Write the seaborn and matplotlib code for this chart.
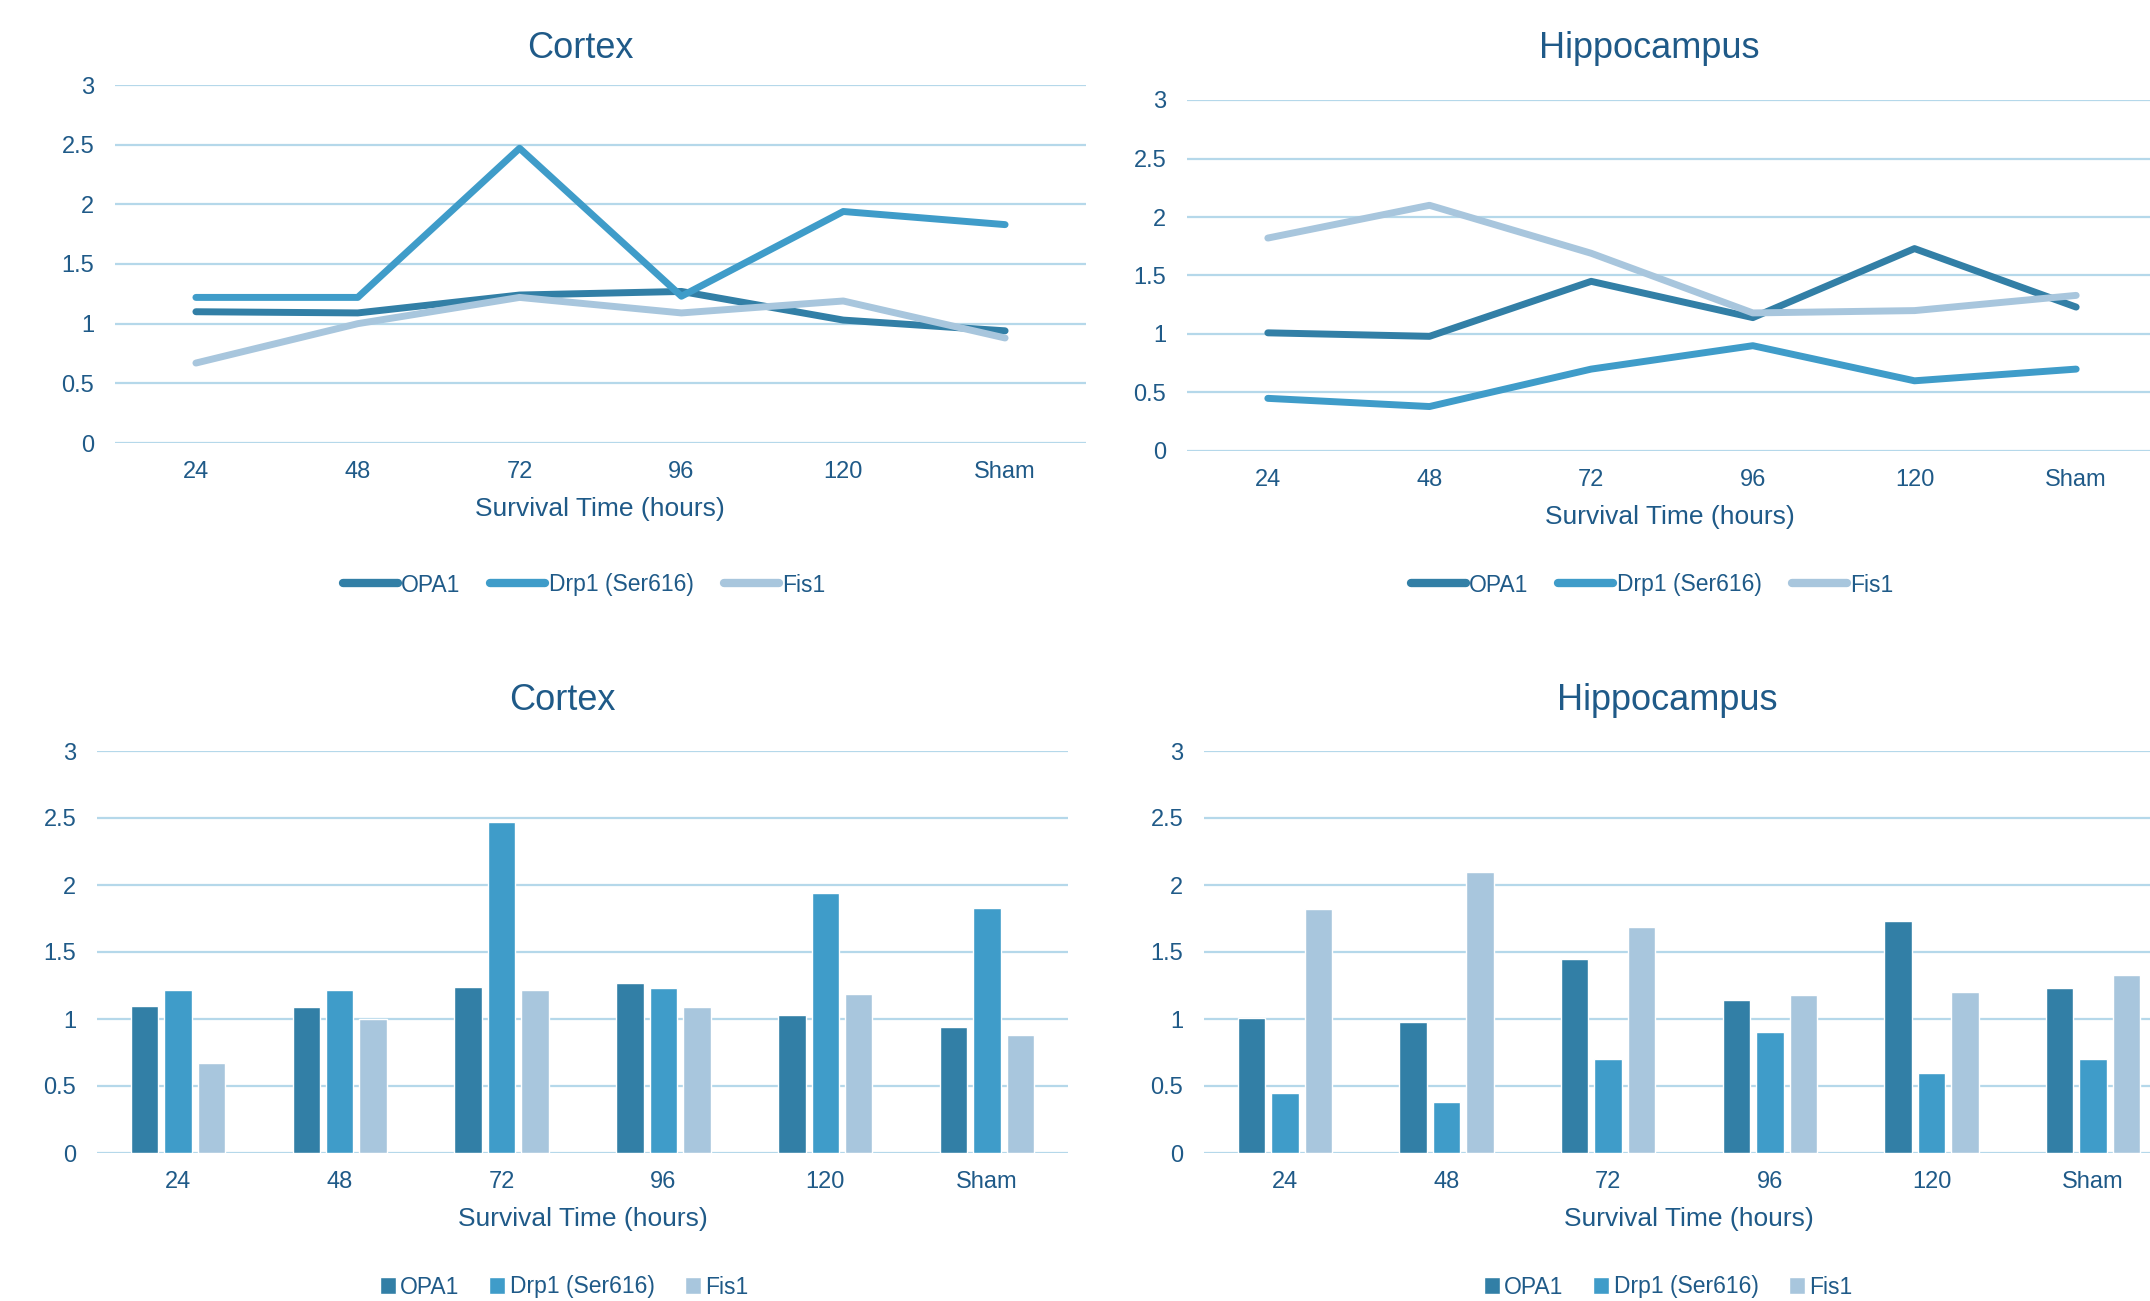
import matplotlib
matplotlib.use("Agg")
import matplotlib.pyplot as plt
import seaborn as sns
import numpy as np
import pandas as pd

# Data
times = ["24", "48", "72", "96", "120", "Sham"]
proteins = ["OPA1", "Drp1 (Ser616)", "Fis1"]

cortex_opa1 = [1.10, 1.09, 1.24, 1.27, 1.03, 0.94]
cortex_drp1 = [1.22, 1.22, 2.47, 1.23, 1.94, 1.83]
cortex_fis1 = [0.67, 1.00, 1.22, 1.09, 1.19, 0.88]

hippo_opa1 = [1.01, 0.98, 1.45, 1.14, 1.73, 1.23]
hippo_drp1 = [0.45, 0.38, 0.70, 0.90, 0.60, 0.70]
hippo_fis1 = [1.82, 2.10, 1.69, 1.18, 1.20, 1.33]

yticks = [0, 0.5, 1, 1.5, 2, 2.5, 3]
ytick_labels = ["0", "0.5", "1", "1.5", "2", "2.5", "3"]

colors = ["#327FA6", "#3F9CC9", "#A8C6DD"]
text_color = "#1F5A88"
grid_color = "#B5D8EA"


def long_df(opa1, drp1, fis1):
    rows = []
    for name, vals in zip(proteins, [opa1, drp1, fis1]):
        for t, v in zip(times, vals):
            rows.append({"time": t, "protein": name, "value": v})
    return pd.DataFrame(rows)


sns.set_theme(style="white")
plt.rcParams["font.family"] = ["Liberation Sans", "DejaVu Sans"]

W, H = 2150, 1301
fig = plt.figure(figsize=(W / 100, H / 100), dpi=100)


def px_axes(left, top, right, bottom):
    return fig.add_axes([left / W, 1 - bottom / H, (right - left) / W, (bottom - top) / H])


def style_axis(ax):
    ax.set_ylim(0, 3)
    ax.set_xlim(-0.5, 5.5)
    ax.set_yticks(yticks)
    ax.set_yticklabels(ytick_labels)
    for s in ax.spines.values():
        s.set_visible(False)
    ax.grid(False)
    for y in yticks:
        ax.axhline(y, color=grid_color, lw=1.6, zorder=0)
    ax.tick_params(axis="both", length=0, labelsize=17, colors=text_color)
    ax.tick_params(axis="x", pad=13)
    ax.tick_params(axis="y", pad=15)
    ax.set_xlabel("")
    ax.set_ylabel("")


panels = [
    # (data, kind, axes box px, title xy, xlabel xy, legend xy)
    (long_df(cortex_opa1, cortex_drp1, cortex_fis1), "line",
     (115, 85, 1086, 443), (580, 49), (600, 509), (584, 585), "Cortex"),
    (long_df(hippo_opa1, hippo_drp1, hippo_fis1), "line",
     (1187, 100, 2157, 451), (1649, 49), (1670, 517), (1652, 585), "Hippocampus"),
    (long_df(cortex_opa1, cortex_drp1, cortex_fis1), "bar",
     (97, 751, 1068, 1153), (562, 700), (583, 1219), (564, 1287), "Cortex"),
    (long_df(hippo_opa1, hippo_drp1, hippo_fis1), "bar",
     (1204, 751, 2174, 1153), (1667, 700), (1689, 1219), (1668, 1287), "Hippocampus"),
]

for df, kind, box, tpos, xlpos, lpos, title in panels:
    ax = px_axes(*box)
    if kind == "line":
        sns.lineplot(data=df, x="time", y="value", hue="protein", palette=colors,
                     sort=False, lw=5, ax=ax, legend=True, zorder=3)
        for line in ax.lines:
            line.set_solid_capstyle("round")
            line.set_solid_joinstyle("round")
        handles, labels = ax.get_legend_handles_labels()
        for h in handles:
            h.set_linewidth(6)
            h.set_solid_capstyle("round")
        ax.get_legend().remove()
        leg = ax.legend(handles, labels, loc="center", bbox_to_anchor=(lpos[0] / W, 1 - lpos[1] / H),
                        bbox_transform=fig.transFigure, ncol=3, frameon=False, fontsize=16.5,
                        handlelength=2.4, handletextpad=0.15, columnspacing=1.3)
    else:
        sns.barplot(data=df, x="time", y="value", hue="protein", palette=colors,
                    width=0.62, gap=0.18, saturation=1, ax=ax, zorder=3)
        ax.get_legend().remove()
        handles, labels = ax.get_legend_handles_labels()
        leg = ax.legend(handles, labels, loc="center", bbox_to_anchor=(lpos[0] / W, 1 - lpos[1] / H),
                        bbox_transform=fig.transFigure, ncol=3, frameon=False, fontsize=16.5,
                        handlelength=0.7, handleheight=0.7, handletextpad=0.2, columnspacing=1.3)
    for t in leg.get_texts():
        t.set_color(text_color)
    style_axis(ax)
    fig.text(tpos[0] / W, 1 - tpos[1] / H, title, ha="center", va="center",
             fontsize=26, color=text_color)
    fig.text(xlpos[0] / W, 1 - xlpos[1] / H, "Survival Time (hours)", ha="center", va="center",
             fontsize=19, color=text_color)

fig.savefig("out.png", dpi=100, facecolor="white")
